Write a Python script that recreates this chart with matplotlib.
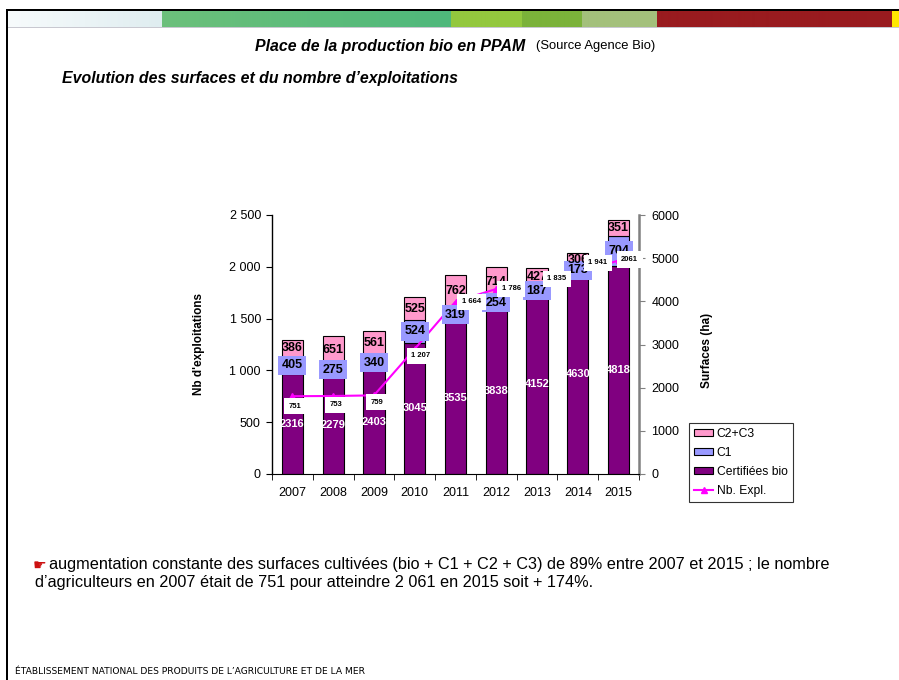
import matplotlib
matplotlib.use('Agg')
import matplotlib.pyplot as plt
from matplotlib.patches import Patch, Rectangle
from matplotlib.lines import Line2D
import numpy as np

plt.rcParams['font.family'] = ['Liberation Sans', 'DejaVu Sans']

years = ['2007', '2008', '2009', '2010', '2011', '2012', '2013', '2014', '2015']
certifiees = [2316, 2279, 2403, 3045, 3535, 3838, 4152, 4630, 4818]
c1 = [405, 275, 340, 524, 319, 254, 187, 173, 704]
c2c3 = [386, 651, 561, 525, 762, 714, 427, 306, 351]
nb_expl = [751, 753, 759, 1207, 1664, 1786, 1835, 1941, 2061]
expl_labels = ['751', '753', '759', '1 207', '1 664', '1 786', '1 835', '1 941', '2061']

W, H = 899, 680
fig = plt.figure(figsize=(W / 100, H / 100), dpi=100)


def fx(px):
    return px / W


def fy(py):
    return 1 - py / H


# --- slide decoration: coloured band + black border
band = fig.add_axes([fx(8), fy(27), fx(891), (27 - 11) / H])
cols = np.zeros((1, 891, 3))
segs = [(8, 162, '#f7fbfc', '#dfedf0'), (162, 451, '#6cc07b', '#4fb87b'),
        (451, 522, '#93c83e', '#93c83e'), (522, 582, '#7bb23a', '#7bb23a'),
        (582, 657, '#a3c07b', '#a3c07b'), (657, 892, '#991b1f', '#991b1f'),
        (892, 899, '#ffe800', '#ffe800')]
for a, b, c0, c9 in segs:
    c0 = np.array(matplotlib.colors.to_rgb(c0))
    c9 = np.array(matplotlib.colors.to_rgb(c9))
    t = np.linspace(0, 1, b - a)[:, None]
    cols[0, a - 8:b - 8] = c0 * (1 - t) + c9 * t
band.imshow(cols, aspect='auto', interpolation='nearest')
band.axis('off')
fig.add_artist(Rectangle((fx(6), fy(11)), fx(893), 2 / H, color='black', lw=0))
fig.add_artist(Rectangle((fx(6), 0), fx(2), fy(9), color='black', lw=0))
fig.add_artist(Rectangle((fx(8), fy(28)), fx(891), 1 / H, color='#c8c8d0', lw=0))

# --- titles
fig.text(fx(255), fy(46), 'Place de la production bio en PPAM', fontsize=11.4,
         fontweight='bold', style='italic', va='center', ha='left')
fig.text(fx(536), fy(46), '(Source Agence Bio)', fontsize=9.4, va='center', ha='left')
fig.text(fx(62), fy(78), 'Evolution des surfaces et du nombre d\u2019exploitations',
         fontsize=11.4, fontweight='bold', style='italic', va='center', ha='left')

# --- chart
ax = fig.add_axes([fx(272), fy(474), fx(639 - 272), (474 - 215) / H])
ax2 = ax.twinx()
x = np.arange(len(years))
bw = 0.52
b1 = np.array(certifiees)
b2 = b1 + np.array(c1)
ax.bar(x, certifiees, bw, color='#800080', edgecolor='black', lw=0.8)
ax.bar(x, c1, bw, bottom=b1, color='#9999ff', edgecolor='black', lw=0.8)
ax.bar(x, c2c3, bw, bottom=b2, color='#ff99cc', edgecolor='black', lw=0.8)
ax.set_ylim(0, 6000)
ax.set_xlim(-0.5, len(years) - 0.5)
ax.yaxis.tick_right()
ax.set_yticks(range(0, 6001, 1000))
ax.tick_params(axis='y', labelsize=9, length=4, color='#808080', pad=5)
ax.set_xticks(x)
ax.set_xticklabels(years)
ax.set_xticks(np.arange(-0.5, len(years), 1), minor=True)
ax.tick_params(axis='x', which='major', length=0, labelsize=9, pad=9)
ax.tick_params(axis='x', which='minor', length=4)
for s in ['top', 'left']:
    ax.spines[s].set_visible(False)
ax.spines['right'].set_color('#808080')
ax.spines['right'].set_linewidth(1.8)

ax2.yaxis.tick_left()
ax2.set_ylim(0, 2500)
ax2.set_yticks(range(0, 2501, 500))
ax2.set_yticklabels([f'{v:,}'.replace(',', ' ') for v in range(0, 2501, 500)])
ax2.tick_params(axis='y', labelsize=9, length=4, pad=4)
for s in ['top', 'right', 'bottom']:
    ax2.spines[s].set_visible(False)
ax2.spines['left'].set_visible(True)
ax2.spines['left'].set_linewidth(1.0)

ax2.plot(x, nb_expl, color='#ff00ff', lw=1.5, marker='^', ms=4, zorder=2)

# bar labels (drawn in ax2 so they sit above the line)
for i in x:
    ax2.text(i, certifiees[i] / 2, str(certifiees[i]), transform=ax.transData,
             ha='center', va='center', color='white', fontsize=8, fontweight='bold', zorder=3)
    ax2.text(i, b1[i] + c1[i] / 2, str(c1[i]), transform=ax.transData,
             ha='center', va='center', color='black', fontsize=9, fontweight='bold', zorder=3,
             bbox=dict(boxstyle='square,pad=0.28', fc='#9999ff', ec='none'))
    ax2.text(i, b2[i] + c2c3[i] / 2, str(c2c3[i]), transform=ax.transData,
             ha='center', va='center', color='black', fontsize=9, fontweight='bold', zorder=3)

# line labels, offsets in pixels (right, down)
offs = [(3, 10), (3, 9), (3, 7), (6, 7), (16, 0), (15, 0), (20, -5), (20, -10), (11, -1)]
for i in x:
    dx, dy = offs[i]
    ax2.annotate(expl_labels[i], (i, nb_expl[i]), xytext=(dx * 0.72, -dy * 0.72),
                 textcoords='offset points', ha='center', va='center', fontsize=5.5,
                 fontweight='bold', zorder=4,
                 bbox=dict(boxstyle='square,pad=0.6', fc='white', ec='none'))

fig.text(fx(199), fy(344), 'Nb d\'exploitations', rotation=90, fontsize=8.5,
         fontweight='bold', ha='center', va='center')
fig.text(fx(707), fy(350), 'Surfaces (ha)', rotation=90, fontsize=8.5,
         fontweight='bold', ha='center', va='center')

handles = [Patch(fc='#ff99cc', ec='black', lw=0.8, label='C2+C3'),
           Patch(fc='#9999ff', ec='black', lw=0.8, label='C1'),
           Patch(fc='#800080', ec='black', lw=0.8, label='Certifiées bio'),
           Line2D([], [], color='#ff00ff', lw=1.5, marker='^', ms=4, label='Nb. Expl.')]
leg = fig.legend(handles=handles, loc='upper left', bbox_to_anchor=(fx(689), fy(423)),
                 fontsize=8.7, frameon=True, fancybox=False, borderpad=0.4,
                 handlelength=1.6, handleheight=0.6, handletextpad=0.3, labelspacing=0.58,
                 borderaxespad=0)
leg.get_frame().set_edgecolor('black')
leg.get_frame().set_linewidth(0.8)

# --- comment text
fig.text(fx(33), fy(565), '\u261b', color='#cc1111', fontsize=11, ha='left', va='center',
         family=['DejaVu Sans'])
fig.text(fx(49), fy(565), 'augmentation constante des surfaces cultivées (bio + C1 + C2 + C3) de 89% '
         'entre 2007 et 2015 ; le nombre', fontsize=11.7, ha='left', va='center')
fig.text(fx(35), fy(583), 'd\u2019agriculteurs en 2007 était de 751 pour atteindre 2 061 en 2015 '
         'soit + 174%.', fontsize=11.7, ha='left', va='center')

fig.text(fx(15), fy(672), 'ÉTABLISSEMENT NATIONAL DES PRODUITS DE L\u2019AGRICULTURE ET DE LA MER',
         fontsize=6.6, ha='left', va='center', family=['Liberation Sans Narrow', 'DejaVu Sans'])

fig.savefig('out.png', dpi=100)
